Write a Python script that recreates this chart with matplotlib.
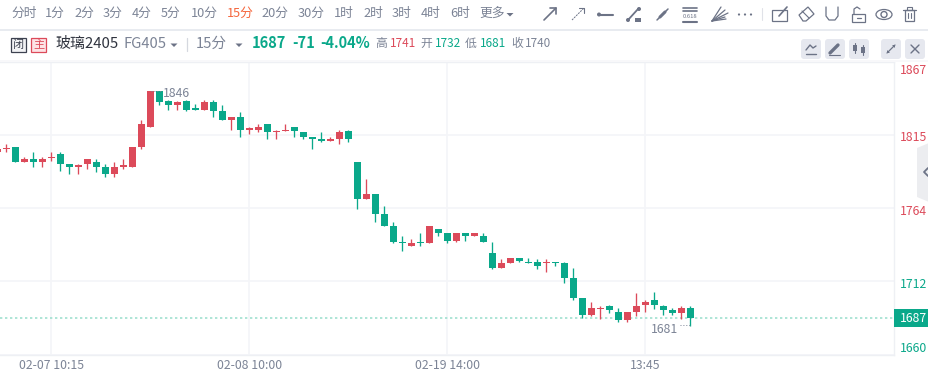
import matplotlib
matplotlib.use("Agg")
import matplotlib.pyplot as plt
from matplotlib.patches import FancyBboxPatch, Rectangle, Polygon, Circle, Ellipse

plt.rcParams['font.family'] = ['Noto Sans CJK SC', 'DejaVu Sans']

# ---------- data ----------
candle_index = list(range(-1, 77))
opens = [1803,1805,1807,1796,1798,1796,1799,1802,1795,1793,1795,1796,1793,1788,1793,1793,1807,1821,
         1846,1839,1836,1839,1834,1833,1838,1832,1826,1828,1819,1819,1823,1817,1818,1821,1817,1814,
         1812,1811,1812,1818,1796,1770,1774,1760,1751,1740,1737,1740,1739,1749,1746,1741,1746,1744,
         1744,1732,1722,1725,1729,1726,1726,1725,1726,1725,1715,1701,1689,1693,1695,1691,1685,1691,
         1696,1699,1695,1692,1690,1694]
closes = [1805,1806,1796,1798,1796,1798,1800,1795,1793,1794,1798,1793,1788,1793,1794,1807,1823,1846,
          1838,1836,1838,1833,1833,1838,1832,1826,1828,1819,1820,1821,1817,1818,1819,1818,1814,1812,
          1811,1812,1817,1812,1770,1774,1760,1751,1740,1739,1739,1739,1751,1746,1741,1746,1744,1746,
          1740,1722,1725,1729,1727,1725,1723,1726,1725,1715,1701,1689,1694,1694,1692,1685,1691,1695,
          1698,1696,1692,1690,1694,1687]
highs = [1805,1809,1807,1800,1803,1800,1803,1803,1795,1795,1798,1798,1795,1796,1798,1807,1826,1846,
         1846,1840,1839,1840,1837,1840,1840,1836,1828,1831,1821,1823,1823,1819,1823,1821,1817,1814,
         1817,1814,1819,1819,1796,1784,1774,1765,1754,1744,1742,1746,1751,1749,1746,1746,1746,1746,
         1746,1740,1728,1729,1729,1729,1728,1728,1726,1726,1722,1701,1698,1695,1696,1694,1691,1704,
         1699,1705,1696,1694,1695,1695]
lows = [1803,1803,1796,1796,1793,1793,1797,1790,1788,1788,1791,1789,1786,1786,1791,1793,1805,1821,
        1836,1833,1833,1832,1833,1833,1828,1826,1819,1814,1816,1817,1812,1812,1818,1814,1812,1805,
        1810,1811,1809,1810,1763,1770,1754,1751,1739,1734,1737,1737,1739,1744,1739,1740,1741,1744,
        1740,1721,1722,1725,1726,1725,1721,1719,1723,1711,1699,1687,1688,1686,1690,1684,1684,1688,
        1691,1693,1689,1689,1686,1681]
grid_values = [1866.4, 1814.8, 1763.9, 1712.6, 1660.7]
price_labels = ['1867', '1815', '1764', '1712', '1660']
price_offsets = [8, 2, 3, 3, -7]
date_ticks = [5, 27, 49, 71]
date_labels = ['02-07 10:15', '02-08 10:00', '02-19 14:00', '13:45']
last_price = 1687
high_price = 1846
low_price = 1681
high_index = 16
low_index = 76
periods = ['分时','1分','2分','3分','4分','5分','10分','15分','20分','30分','1时','2时','3时','4时','6时','更多']
period_x = [24,55,84,113,142,171,204,240,275,311,344,373,402,431,460,492]

RED = '#dc4a5a'
GREEN = '#0aa88a'
GRAY = '#7c8496'
GRID = '#f4f5f8'

W, H = 929, 373
fig = plt.figure(figsize=(W/100, H/100), dpi=100, facecolor='white')

# ---------- chart ----------
ax = fig.add_axes([0, (H-355)/H, 894/W, (355-62)/H])
ax.set_xlim(-0.7, 98.63)
ax.set_ylim(1660.7, 1866.4)
for s in ['left']:
    ax.spines[s].set_visible(False)
for s in ['top', 'bottom', 'right']:
    ax.spines[s].set_color('#eef0f4')
    ax.spines[s].set_linewidth(1)
ax.set_axisbelow(True)
ax.grid(True, color=GRID, lw=1.2)
ax.set_yticks(grid_values)
ax.set_yticklabels([])
ax.set_xticks(date_ticks)
ax.set_xticklabels(date_labels, fontsize=8.8, color=GRAY)
ax.tick_params(length=0)
ax.tick_params(axis='x', pad=3)

colors = [RED if c >= o else GREEN for o, c in zip(opens, closes)]
ax.vlines(candle_index, lows, highs, colors=colors, lw=0.95, zorder=3)
ax.bar(candle_index, [abs(c-o) for o, c in zip(opens, closes)],
       bottom=[min(o, c) for o, c in zip(opens, closes)],
       width=0.78, color=colors, lw=0, zorder=4)

ax.axhline(last_price, color='#9fe0d0', lw=1.2, ls=(0, (1.4, 1.6)), zorder=2)

for lab, val, off in zip(price_labels, grid_values, price_offsets):
    color = RED if int(lab) > last_price + 50 else GREEN
    ax.annotate(lab, xy=(1, val), xycoords=ax.get_yaxis_transform(),
                xytext=(4.3, -off*0.72), textcoords='offset points', annotation_clip=False,
                va='center', ha='left', fontsize=8.8, color=color)

ax.annotate(str(high_price), xy=(high_index, high_price), xytext=(9, -2*0.72),
            textcoords='offset points', va='center', ha='left', fontsize=8.8, color=GRAY, zorder=6)
ax.annotate(str(low_price), xy=(low_index, low_price), xytext=(-8.6, -3*0.72),
            textcoords='offset points', va='center', ha='right', fontsize=8.8, color=GRAY)
ax.plot([high_index+0.05, high_index+1.2], [high_price, high_price], color=GRAY, lw=0.7, ls=(0, (1, 2)), zorder=5)
ax.plot([low_index-1.2, low_index-0.05], [low_price+0.5, low_price+0.5], color=GRAY, lw=0.7, ls=(0, (1, 2)), zorder=5)

# ---------- overlay (page furniture, pixel coordinates) ----------
ov = fig.add_axes([0, 0, 1, 1], facecolor='none')
ov.set_xlim(0, W); ov.set_ylim(H, 0); ov.axis('off')

def T(x, y, s, size=9, color=GRAY, ha='left', **kw):
    ov.text(x, y, s, fontsize=size, color=color, ha=ha, va='center', **kw)

def L(xs, ys, color='#6c7386', lw=1.2, **kw):
    ov.plot(xs, ys, color=color, lw=lw, solid_capstyle='round', **kw)

def caret(x, y, color='#6c7386'):
    ov.add_patch(Polygon([(x-3.5, y-1.5), (x+3.5, y-1.5), (x, y+2)], color=color, lw=0))

for p, x in zip(periods, period_x):
    T(x, 13.5, p, size=9.2, color='#f5663c' if p == '15分' else GRAY, ha='center')
caret(510, 14.5)
ov.add_patch(Rectangle((0, 29), W, 2, color='#e8ebf0', lw=0))

# price tag and side tab
ov.add_patch(Rectangle((894, 309), 35, 18, color=GREEN, lw=0))
T(913, 318, str(last_price), size=8.8, color='white', ha='center', fontweight='medium')
ov.add_patch(Polygon([(929, 143), (917, 148), (917, 197), (929, 202)], color='#ecedf0', lw=0))
L([928, 924, 928], [168, 172, 176], color='#6c7386', lw=1.3)

# second header row
ov.add_patch(Rectangle((11.5, 37.5), 14.5, 14.5, fc='#f2f3f5', ec='#3d4250', lw=0.9))
T(18.7, 44.7, '闭', size=8, color='#3d4250', ha='center')
ov.add_patch(Rectangle((31.5, 37.5), 14.5, 14.5, fc='#fde3e5', ec=RED, lw=0.9))
T(38.7, 44.7, '主', size=8, color=RED, ha='center')
T(55, 43.5, '玻璃2405', size=10.8, color='#30343f')
T(124, 43.5, 'FG405', size=10.6, color=GRAY)
caret(174, 45)
L([187, 187], [38, 51], color='#d5d8df', lw=0.9)
T(196, 43.5, '15分', size=10.6, color=GRAY)
caret(239, 45)
T(252, 43.5, '1687', size=10.5, color=GREEN, fontweight='bold')
T(292, 43.5, '-71', size=10.5, color=GREEN, fontweight='bold')
T(320, 43.5, '-4.04%', size=10.5, color=GREEN, fontweight='bold')
for x, s, c in [(375, '高', GRAY), (390, '1741', RED), (420, '开', GRAY), (435, '1732', GREEN),
                (465, '低', GRAY), (480, '1681', GREEN), (511, '收', GRAY), (525, '1740', GRAY)]:
    T(x, 43.5, s, size=8.5, color=c)
ov.add_patch(Rectangle((0, 60), W, 2, color='#f8f8fa', lw=0))

# right-hand buttons
for x in [801, 825, 849, 881, 905]:
    ov.add_patch(FancyBboxPatch((x+2, 41), 16, 16, boxstyle='round,pad=2,rounding_size=3',
                                fc='#e6e8ef', ec='none'))
L([806, 810, 813, 816], [50, 45, 48, 46], lw=1); L([806, 816], [54, 54], lw=1)
L([830, 838], [53, 45], lw=2.4); L([829, 840], [55, 55], lw=0.8)
L([855, 855], [43, 53], lw=0.8); ov.add_patch(Rectangle((853, 45), 4, 6, color='#6c7386', lw=0))
L([863, 863], [45, 55], lw=0.8); ov.add_patch(Rectangle((861, 47), 4, 6, color='#6c7386', lw=0))
L([887, 895], [53, 45], lw=0.9)
ov.add_patch(Polygon([(892, 45), (895, 45), (895, 48)], color='#6c7386', lw=0))
ov.add_patch(Polygon([(887, 50), (887, 53), (890, 53)], color='#6c7386', lw=0))
L([911, 919], [45, 53], lw=1); L([911, 919], [53, 45], lw=1)

# drawing tool icons
L([544, 556], [20, 8]); L([550, 556, 556], [8, 8, 14])
L([572, 584], [20, 8], lw=0.7, ls=(0, (2, 1))); L([579, 584, 584], [8, 8, 13], lw=0.8)
L([599, 613], [14.5, 14.5], lw=1.5); ov.add_patch(Circle((599, 14.5), 2, color='#6c7386', lw=0))
L([628, 638], [20, 9], lw=1.3)
ov.add_patch(Circle((628, 20), 2, color='#6c7386', lw=0)); ov.add_patch(Circle((639, 9), 2, color='#6c7386', lw=0))
ov.add_patch(Rectangle((635, 18), 6, 4, color='#6c7386', lw=0))
L([657, 668], [20, 9], lw=1.1); L([660, 665], [17, 12], lw=2.2)
for y in [7.5, 11]:
    L([683, 697], [y, y], lw=1.2)
L([683, 697], [22, 22], lw=1.5)
ov.text(690, 16, '0.618', fontsize=4.2, color='#6c7386', ha='center', va='center')
for xe, ye in [(721, 7), (725, 10), (728, 13), (725, 17), (726, 19)]:
    L([712, xe], [21, ye], lw=0.9)
for x in [739, 745, 751]:
    ov.add_patch(Circle((x, 14.5), 1.1, color='#6c7386', lw=0))
L([762.5, 762.5], [8, 20], color='#e0e2e8', lw=0.8)
# edit
ov.add_patch(Rectangle((772, 10), 15, 11, fc='none', ec='#6c7386', lw=0.9))
L([779, 787], [16, 7], lw=1.2)
# eraser
ov.add_patch(Polygon([(799, 15), (808, 7), (814, 14), (806, 21), (803, 21)], fc='none', ec='#6c7386', lw=0.9))
L([802, 809], [11, 18], lw=0.8)
# magnet
L([826, 826, 829, 835, 838, 838], [7, 16, 20, 20, 16, 7], lw=0.9)
# lock
ov.add_patch(Rectangle((852, 14), 13, 8, fc='none', ec='#6c7386', lw=0.9))
L([854, 854, 857, 860], [14, 9, 7, 9], lw=0.9); L([857, 861], [18, 18], lw=0.9)
# eye
ov.add_patch(Ellipse((884, 14.5), 16, 10, fc='none', ec='#6c7386', lw=0.9))
ov.add_patch(Circle((884, 14.5), 3, fc='none', ec='#6c7386', lw=1))
# bin
L([903, 916], [10, 10], lw=0.9)
ov.add_patch(Rectangle((905, 10), 9.5, 11, fc='none', ec='#6c7386', lw=0.9))
ov.add_patch(Rectangle((907, 7), 5, 3, fc='none', ec='#6c7386', lw=0.8))
L([908, 908], [13, 18], lw=0.8); L([911.5, 911.5], [13, 18], lw=0.8)

fig.savefig('out.png', dpi=100, facecolor='white')
